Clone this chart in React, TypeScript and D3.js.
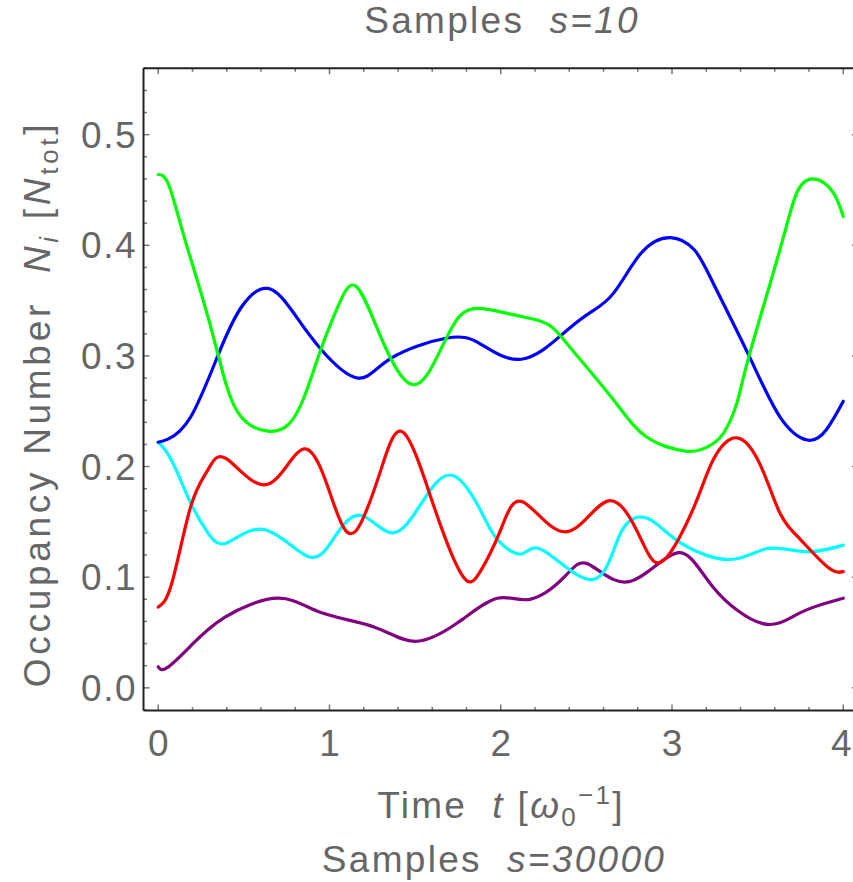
import React from "react";
import * as d3 from "d3";

const greenT = [0, 0.06, 0.145, 0.25, 0.35, 0.465, 0.64, 0.76, 0.85, 0.95, 1.05, 1.155, 1.3, 1.487, 1.65, 1.76, 1.88, 2.05, 2.2, 2.3, 2.42, 2.66, 2.85, 3.08, 3.21, 3.3, 3.38, 3.45, 3.63, 3.73, 3.83, 3.94, 4.0];
const greenV = [0.464, 0.455, 0.411, 0.357, 0.301, 0.249, 0.232, 0.238, 0.262, 0.306, 0.345, 0.363, 0.317, 0.274, 0.306, 0.336, 0.343, 0.338, 0.333, 0.326, 0.305, 0.26, 0.227, 0.214, 0.218, 0.23, 0.258, 0.3, 0.396, 0.448, 0.46, 0.448, 0.426];

const blueT = [0, 0.06, 0.19, 0.35, 0.485, 0.64, 0.79, 0.95, 1.166, 1.36, 1.68, 1.88, 2.12, 2.37, 2.52, 2.66, 2.82, 2.99, 3.13, 3.24, 3.45, 3.63, 3.79, 3.9, 4.0];
const blueV = [0.222, 0.225, 0.245, 0.301, 0.344, 0.361, 0.339, 0.306, 0.28, 0.298, 0.316, 0.311, 0.297, 0.321, 0.339, 0.357, 0.393, 0.407, 0.396, 0.366, 0.3, 0.245, 0.224, 0.233, 0.259];

const redT = [0, 0.08, 0.19, 0.29, 0.4, 0.64, 0.86, 1.03, 1.155, 1.3, 1.43, 1.59, 1.71, 1.8, 1.88, 2.0, 2.13, 2.38, 2.63, 2.82, 2.95, 3.13, 3.24, 3.38, 3.52, 3.63, 3.75, 3.91, 4.0];
const redV = [0.073, 0.095, 0.164, 0.197, 0.207, 0.184, 0.216, 0.164, 0.142, 0.197, 0.231, 0.173, 0.122, 0.097, 0.105, 0.143, 0.168, 0.141, 0.169, 0.134, 0.115, 0.164, 0.206, 0.226, 0.2, 0.158, 0.134, 0.109, 0.105];

const cyanT = [0, 0.08, 0.19, 0.29, 0.4, 0.62, 0.87, 1.02, 1.18, 1.37, 1.55, 1.72, 1.88, 1.98, 2.12, 2.25, 2.54, 2.7, 2.86, 3.05, 3.34, 3.56, 3.78, 4.0];
const cyanV = [0.222, 0.205, 0.167, 0.14, 0.131, 0.143, 0.119, 0.134, 0.156, 0.14, 0.17, 0.192, 0.161, 0.134, 0.121, 0.124, 0.098, 0.14, 0.153, 0.131, 0.116, 0.126, 0.123, 0.129];

const purpleT = [0, 0.05, 0.19, 0.39, 0.7, 0.95, 1.26, 1.5, 1.75, 1.98, 2.17, 2.37, 2.51, 2.75, 3.03, 3.24, 3.53, 3.75, 4.0];
const purpleV = [0.019, 0.018, 0.038, 0.064, 0.081, 0.068, 0.055, 0.042, 0.059, 0.081, 0.08, 0.1, 0.112, 0.096, 0.122, 0.091, 0.058, 0.068, 0.081];

const xTicks = [0, 1, 2, 3, 4];
const yTicks = [0, 0.1, 0.2, 0.3, 0.4, 0.5];

const series = [
  { t: purpleT, v: purpleV, color: "#800080" },
  { t: cyanT, v: cyanV, color: "#00ffff" },
  { t: redT, v: redV, color: "#ff0000" },
  { t: blueT, v: blueV, color: "#0000ff" },
  { t: greenT, v: greenV, color: "#00ff00" },
];

const W = 853;
const H = 882;
const left = 143.5;
const right = 858;
const top = 68.3;
const bottom = 710.5;
const FONT = "'Liberation Sans', Arial, Helvetica, sans-serif";
const TXT = "#666666";
const LS = 2.3;

export default function App() {
  const x = d3.scaleLinear().domain([-0.086, 4.086]).range([left, right]);
  const y = d3.scaleLinear().domain([-0.0205, 0.56]).range([bottom, top]);
  const line = d3
    .line<[number, number]>()
    .x((d) => x(d[0]))
    .y((d) => y(d[1]))
    .curve(d3.curveNatural);

  const xMinor = d3.range(0, 4.0001, 0.2).filter((v) => Math.abs(v - Math.round(v)) > 1e-6);
  const yMinor = d3.range(-0.02, 0.5601, 0.02).filter((v) => Math.abs(v * 10 - Math.round(v * 10)) > 1e-6);

  return (
    <svg width={W} height={H} style={{ position: "absolute", left: 0, top: 0, background: "#fff" }}>
      <defs>
        <clipPath id="plotclip">
          <rect x={left} y={top} width={right - left} height={bottom - top} />
        </clipPath>
      </defs>
      <g stroke="#777" strokeWidth={1.5}>
        {xTicks.map((t) => (
          <g key={"xt" + t}>
            <line x1={x(t)} x2={x(t)} y1={bottom} y2={bottom - 6} />
            <line x1={x(t)} x2={x(t)} y1={top} y2={top + 6} />
          </g>
        ))}
        {xMinor.map((t, i) => (
          <g key={"xm" + i}>
            <line x1={x(t)} x2={x(t)} y1={bottom} y2={bottom - 3.5} />
            <line x1={x(t)} x2={x(t)} y1={top} y2={top + 3.5} />
          </g>
        ))}
        {yTicks.map((v) => (
          <g key={"yt" + v}>
            <line x1={left} x2={left + 6} y1={y(v)} y2={y(v)} />
            <line x1={right} x2={right - 6} y1={y(v)} y2={y(v)} />
          </g>
        ))}
        {yMinor.map((v, i) => (
          <g key={"ym" + i}>
            <line x1={left} x2={left + 3.5} y1={y(v)} y2={y(v)} />
            <line x1={right} x2={right - 3.5} y1={y(v)} y2={y(v)} />
          </g>
        ))}
      </g>
      <g clipPath="url(#plotclip)" fill="none" strokeWidth={3.2} strokeLinejoin="round" strokeLinecap="round">
        {series.map((s, i) => (
          <path
            key={i}
            d={line(s.t.map((t, j) => [t, s.v[j]] as [number, number])) || ""}
            stroke={s.color}
          />
        ))}
      </g>
      <g stroke="#222" strokeWidth={2} fill="none">
        <line x1={left} x2={right} y1={top} y2={top} />
        <line x1={left} x2={right} y1={bottom} y2={bottom} />
        <line x1={left} x2={left} y1={top} y2={bottom} />
        <line x1={right} x2={right} y1={top} y2={bottom} />
      </g>
      <g fill={TXT} fontFamily={FONT} fontSize={37}>
        {xTicks.map((t, i) => (
          <text key={"xl" + t} x={i === xTicks.length - 1 ? x(t) - 2 : x(t)} y={756} textAnchor="middle">
            {String(t)}
          </text>
        ))}
        {yTicks.map((v) => (
          <text key={"yl" + v} x={137} y={y(v) + 13} textAnchor="end" letterSpacing={1.5}>
            {v.toFixed(1)}
          </text>
        ))}
      </g>
      <text x={502} y={33} textAnchor="middle" fill={TXT} fontFamily={FONT} fontSize={37} letterSpacing={LS} style={{ whiteSpace: "pre" }}>
        {"Samples  "}
        <tspan fontStyle="italic">s=10</tspan>
      </text>
      <text x={501} y={818} textAnchor="middle" fill={TXT} fontFamily={FONT} fontSize={37} letterSpacing={LS} style={{ whiteSpace: "pre" }}>
        {"Time  "}
        <tspan fontStyle="italic">t</tspan>
        {" ["}
        <tspan fontStyle="italic">ω</tspan>
        <tspan fontSize={26} dy={8}>0</tspan>
        <tspan fontSize={26} dy={-22}>−1</tspan>
        <tspan dy={14}>]</tspan>
      </text>
      <text x={494} y={872} textAnchor="middle" fill={TXT} fontFamily={FONT} fontSize={37} letterSpacing={LS} style={{ whiteSpace: "pre" }}>
        {"Samples  "}
        <tspan fontStyle="italic">s=30000</tspan>
      </text>
      <text
        transform="translate(50,404) rotate(-90)"
        textAnchor="middle"
        fill={TXT}
        fontFamily={FONT}
        fontSize={37}
        letterSpacing={3.7}
        style={{ whiteSpace: "pre" }}
      >
        {"Occupancy Number  "}
        <tspan fontStyle="italic">N</tspan>
        <tspan fontStyle="italic" fontSize={26} dy={8}>i</tspan>
        <tspan dy={-8}>{" ["}</tspan>
        <tspan fontStyle="italic">N</tspan>
        <tspan fontSize={26} dy={8}>tot</tspan>
        <tspan dy={-8}>]</tspan>
      </text>
    </svg>
  );
}
